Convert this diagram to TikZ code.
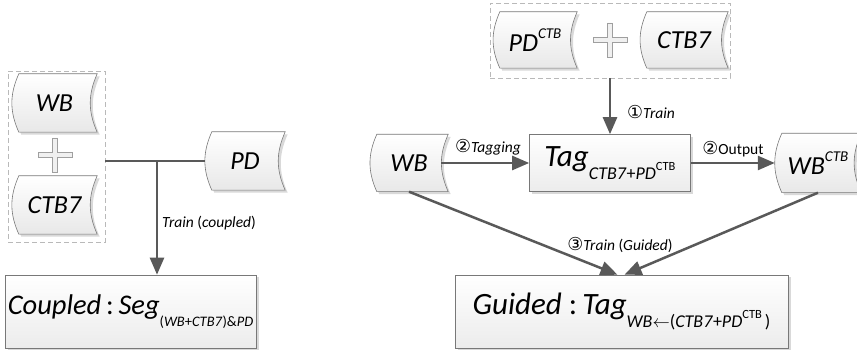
\documentclass[tikz,border=0pt]{standalone}
\usepackage{fontspec}
\setmainfont{Carlito}
\newfontfamily\symfont[Scale=1.15]{DejaVu Sans}
\usepackage{tikz}
\usetikzlibrary{positioning,arrows.meta,backgrounds,shadows}

\definecolor{lnc}{RGB}{89,89,89}
\definecolor{edgec}{RGB}{120,120,120}

% sub- and superscripts in text
\newcommand{\subtx}[2][18]{\raisebox{-0.42em}{\fontsize{#1}{#1}\selectfont #2}}
\newcommand{\suptx}[2][12.5]{\raisebox{0.5em}{\fontsize{#1}{#1}\selectfont #2}}
\newcommand{\circd}[1]{{\symfont #1}}

\begin{document}
\begin{tikzpicture}[
    x=1pt, y=1pt,
    store/.style={
        inner sep=0pt,
        font=\fontsize{26}{26}\selectfont\itshape
    },
    storeline/.style={
        draw=edgec,
        line width=0.6pt,
        top color=white,
        bottom color=gray!18,
        drop shadow={shadow xshift=2.5pt,shadow yshift=-2.5pt,fill=black,opacity=0.15}
    },
    bigbox/.style={
        draw=edgec,
        line width=0.6pt,
        top color=white,
        bottom color=gray!15,
        drop shadow={shadow xshift=2.5pt,shadow yshift=-2.5pt,fill=black,opacity=0.15},
        inner sep=2pt,
        font=\fontsize{31}{31}\selectfont
    },
    grp/.style={
        draw=gray!55,
        line width=0.6pt,
        dash pattern=on 5pt off 3pt,
        inner sep=0pt
    },
    plussym/.style={draw=gray!75, fill=gray!12, line width=0.6pt},
    conn/.style={draw=lnc, line width=2.5pt},
    arrow/.style={conn, -{Triangle[length=17pt,width=14pt]}},
    lbl/.style={font=\fontsize{15.5}{15.5}\selectfont, inner sep=1pt}
]
\useasboundingbox (0,0) rectangle (857,-352);

% Gekoppelt (links)
\node[grp, minimum width=97pt, minimum height=171pt] (grpl) at (56.5,-156.5) {};
\node[store, minimum width=85pt, minimum height=58pt] (wbl) at (54.5,-103) {WB};
\node[store, minimum width=85pt, minimum height=58pt] (ctbl) at (54.5,-205) {CTB7};
\coordinate (plusl) at (55,-155);
\node[store, minimum width=80pt, minimum height=58pt] (pd) at (245,-161) {PD};
\coordinate (jn) at (157,-161);
\node[bigbox, font=\fontsize{28.5}{28.5}\selectfont, minimum width=251pt, minimum height=73pt] (coupled) at (130.5,-311.5)
    {\textit{Coupled}\,:\,\textit{Seg}\subtx[14.5]{(\textit{WB}+\textit{CTB7})\&\textit{PD}}};
\node[lbl, anchor=west] (lcoup) at (161,-223) {\textit{Train} (\textit{coupled})};

% Gefuehrt (rechts)
\node[grp, minimum width=240pt, minimum height=75pt] (grpr) at (610,-40.5) {};
\node[store, minimum width=84pt, minimum height=56pt] (pdctb) at (535,-40) {PD\suptx[15]{CTB}};
\coordinate (plusr) at (610,-40);
\node[store, minimum width=88pt, minimum height=56pt] (ctbr) at (684,-40) {CTB7};
\node[bigbox, minimum width=161pt, minimum height=57pt] (tag) at (610,-163)
    {\textit{Tag}\subtx{\textit{CTB7}+\textit{PD}\suptx{CTB}}};
\node[store, minimum width=78pt, minimum height=57pt] (wbr) at (409,-163) {WB};
\node[store, minimum width=86pt, minimum height=59pt] (wbo) at (818,-163) {WB\suptx[15]{CTB}};
\node[bigbox, minimum width=333pt, minimum height=73pt] (guided) at (621.5,-311.5)
    {\textit{Guided} :\,\textit{Tag}\subtx{\textit{WB}$\leftarrow$(\textit{CTB7}+\textit{PD}\suptx{CTB}\,)}};
\node[lbl, anchor=west] (ltrain) at (626,-112) {\circd{①}\textit{Train}};
\node[lbl] (ltagging) at (488,-147) {\circd{②}\textit{Tagging}};
\node[lbl] (loutput) at (733,-149) {\circd{②}Output};
\node[lbl] (lguided) at (620,-245) {\circd{③}\textit{Train} (\textit{Guided})};

% Umrisse der Datenspeicher
\begin{scope}[on background layer]
\foreach \n in {wbl,ctbl,pd,pdctb,ctbr,wbr,wbo}
    \path[storeline] ([xshift=7pt]\n.north west) to[out=-114,in=114] ([xshift=7pt]\n.south west)
        -- (\n.south east) to[out=114,in=-114] (\n.north east) -- cycle;
\end{scope}

% Pluszeichen
\foreach \c in {plusl,plusr}
    \draw[plussym] (\c) ++(-17,-2.5) -- ++(14.5,0) -- ++(0,-14.5) -- ++(5,0) -- ++(0,14.5)
        -- ++(14.5,0) -- ++(0,5) -- ++(-14.5,0) -- ++(0,14.5) -- ++(-5,0) -- ++(0,-14.5)
        -- ++(-14.5,0) -- cycle;

% Verbindungen
\draw[conn] (grpl.east |- jn) -- (pd.west);
\draw[arrow] (jn) -- (jn |- coupled.north);

\draw[arrow] (grpr.south) -- (tag.north);
\draw[arrow] ([xshift=-7pt]wbr.east) -- (tag.west);
\draw[arrow] (tag.east) -- (wbo.west);
\draw[arrow] (wbr.south) -- ([xshift=-4pt]guided.north);
\draw[arrow] (wbo.south) -- ([xshift=3pt]guided.north);

\end{tikzpicture}
\end{document}
